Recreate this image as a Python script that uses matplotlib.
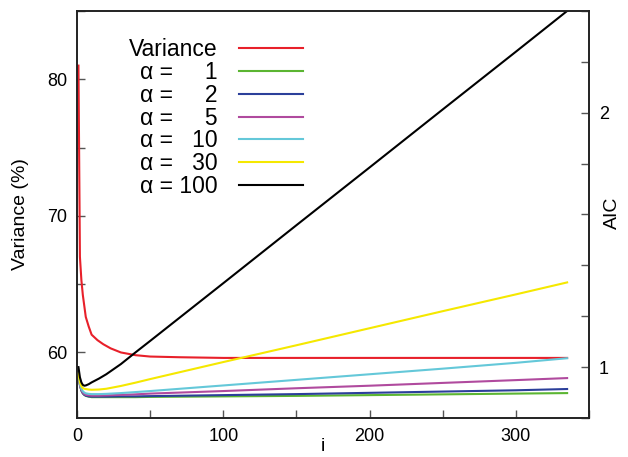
import numpy as np
import matplotlib
matplotlib.use("Agg")
import matplotlib.pyplot as plt
from matplotlib.ticker import MultipleLocator

plt.rcParams['font.family'] = ['Liberation Sans', 'DejaVu Sans']

# Variance (left axis, %)
i_var = [1, 2, 3, 4, 6, 8, 10, 14, 18, 23, 30, 40, 50, 70, 100, 150, 200, 250, 300, 335]
variance = [81.0, 67.0, 65.3, 64.2, 62.6, 61.9, 61.3, 60.9, 60.6, 60.3, 60.0,
            59.8, 59.7, 59.65, 59.6, 59.6, 59.6, 59.6, 59.6, 59.6]

# AIC curves (right axis)
i_aic = [1, 2, 3, 4, 5, 6, 8, 10, 15, 20, 30, 40, 50, 100, 150, 200, 250, 300, 335]
aic_1 = [0.975, 0.93, 0.908, 0.897, 0.891, 0.887, 0.884, 0.882, 0.882, 0.882, 0.882,
         0.882, 0.883, 0.885, 0.887, 0.890, 0.893, 0.896, 0.898]
aic_2 = [0.975, 0.93, 0.908, 0.897, 0.891, 0.888, 0.885, 0.884, 0.884, 0.884, 0.885,
         0.885, 0.886, 0.890, 0.894, 0.899, 0.904, 0.909, 0.914]
aic_5 = [0.975, 0.93, 0.91, 0.90, 0.894, 0.891, 0.889, 0.888, 0.888, 0.889, 0.891,
         0.893, 0.896, 0.906, 0.917, 0.927, 0.938, 0.949, 0.957]
aic_10 = [0.975, 0.935, 0.915, 0.905, 0.90, 0.897, 0.895, 0.894, 0.894, 0.895, 0.898,
          0.902, 0.906, 0.928, 0.950, 0.972, 0.994, 1.017, 1.035]
aic_30 = [0.975, 0.94, 0.925, 0.918, 0.915, 0.914, 0.912, 0.911, 0.912, 0.915, 0.926,
          0.939, 0.953, 1.020, 1.086, 1.153, 1.220, 1.286, 1.333]
aic_100 = [1.0, 0.96, 0.94, 0.93, 0.927, 0.928, 0.933, 0.940, 0.955, 0.972, 1.012,
           1.058, 1.103, 1.330, 1.558, 1.785, 2.013, 2.240, 2.40]

alphas = ['1', '2', '5', '10', '30', '100']
aic_series = [aic_1, aic_2, aic_5, aic_10, aic_30, aic_100]
colors = ['#5bb532', '#2b3f9a', '#b04a9e', '#64c8d9', '#f5e800', '#000000']

fig = plt.figure(figsize=(6.28, 4.57), dpi=100)
ax = fig.add_axes([0.1226, 0.0853, 0.8154, 0.8907])
ax2 = ax.twinx()

line_var, = ax.plot(i_var, variance, color='#e8202a', lw=1.5)
handles = [line_var]
labels = ['Variance']
for a, s, c in zip(alphas, aic_series, colors):
    h, = ax2.plot(i_aic, s, color=c, lw=1.5)
    handles.append(h)
    pad = '\u2007' * (3 - len(a))
    labels.append('α = ' + pad + a)

ax.set_xlim(0, 350)
ax.set_ylim(55.2, 85)
ax2.set_ylim(0.8, 2.4)

ax.xaxis.set_major_locator(MultipleLocator(100))
ax.xaxis.set_minor_locator(MultipleLocator(50))
ax.yaxis.set_major_locator(MultipleLocator(10))
ax.yaxis.set_minor_locator(MultipleLocator(5))
ax2.yaxis.set_major_locator(MultipleLocator(1))
ax2.yaxis.set_minor_locator(MultipleLocator(0.2))

for a in (ax, ax2):
    a.tick_params(which='both', direction='in', length=6, width=1, color='#555555',
                  labelsize=13, pad=7)
    for sp in a.spines.values():
        sp.set_color('#222222')
        sp.set_linewidth(1.2)
ax.tick_params(axis='x', which='both', top=False)
ax.tick_params(axis='y', which='both', right=False)
ax2.tick_params(axis='x', which='both', top=False, bottom=False,
                labeltop=False, labelbottom=False)

ax.set_xlabel('i', fontsize=14)
ax.xaxis.set_label_coords(0.48, -0.05)
ax.set_ylabel('Variance (%)', fontsize=14)
ax.yaxis.set_label_coords(-0.094, 0.5)
ax2.set_ylabel('AIC', fontsize=14)
ax2.yaxis.set_label_coords(1.03, 0.504)

ax2.legend(handles, labels, loc='upper left', bbox_to_anchor=(0.07, 0.972),
           frameon=False, markerfirst=False, fontsize=16.5, handlelength=2.8,
           handletextpad=0.92, labelspacing=-0.01, borderpad=0.2)

fig.savefig('out.png', dpi=100)
